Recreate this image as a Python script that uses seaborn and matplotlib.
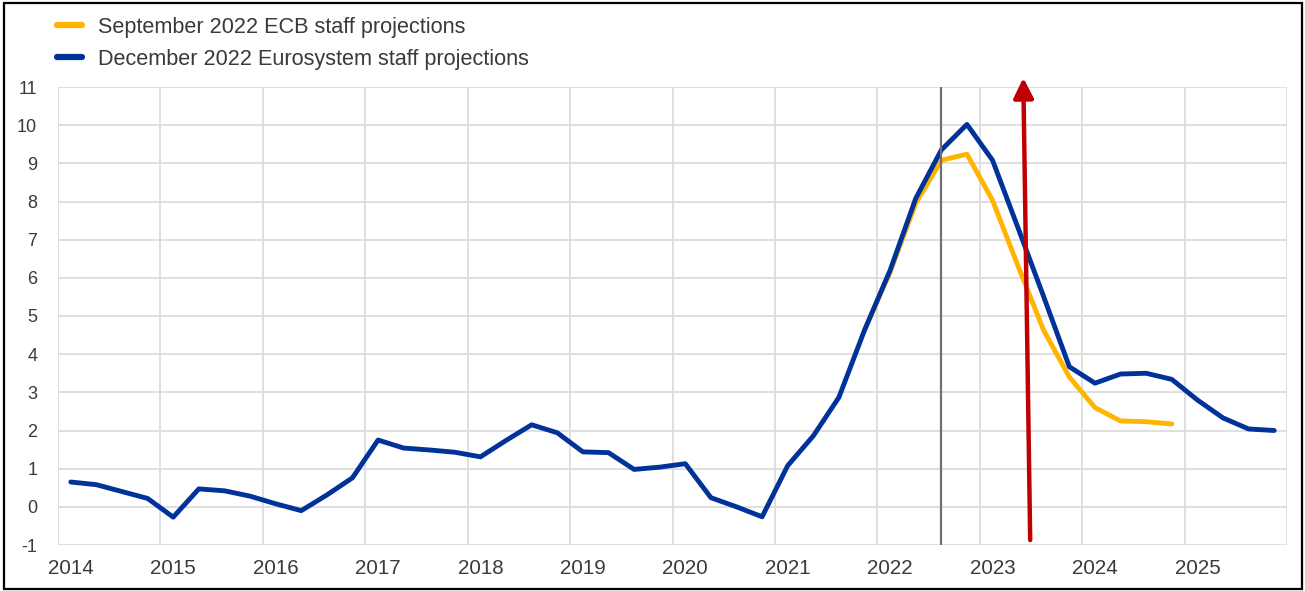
import numpy as np
import pandas as pd
import matplotlib
matplotlib.use("Agg")
import matplotlib.pyplot as plt
from matplotlib.patches import Rectangle
import seaborn as sns

# ---- data ----
years = [2014, 2015, 2016, 2017, 2018, 2019, 2020, 2021, 2022, 2023, 2024, 2025]
quarters = [f"{y}Q{q}" for y in years for q in (1, 2, 3, 4)]

december_2022 = [0.65, 0.58, 0.40, 0.22, -0.27, 0.47, 0.42, 0.28,
                 0.08, -0.10, 0.31, 0.76, 1.75, 1.54, 1.49, 1.43,
                 1.31, 1.74, 2.15, 1.94, 1.44, 1.42, 0.98, 1.04,
                 1.13, 0.24, 0.00, -0.26, 1.08, 1.86, 2.87, 4.63,
                 6.20, 8.08, 9.35, 10.02, 9.08, 7.30, 5.50, 3.67,
                 3.24, 3.48, 3.50, 3.34, 2.80, 2.33, 2.04, 2.00]

september_2022 = [np.nan] * 31 + [4.63, 6.15, 7.95, 9.08, 9.24, 8.03, 6.30,
                                  4.62, 3.40, 2.60, 2.25, 2.23, 2.17] + [np.nan] * 4

label_sep = "September 2022 ECB staff projections"
label_dec = "December 2022 Eurosystem staff projections"
colors = {label_sep: "#FFB400", label_dec: "#003299"}

cutoff_quarter = "2022Q3"
arrow_start = (37.47, -0.87)
arrow_end = (37.20, 11.24)

df = pd.DataFrame({"quarter": quarters,
                   label_sep: september_2022,
                   label_dec: december_2022})
df["pos"] = np.arange(len(quarters))
long = df.melt(id_vars=["quarter", "pos"], value_vars=[label_sep, label_dec],
               var_name="series", value_name="value").dropna()

# ---- style ----
sns.set_theme(style="whitegrid")
plt.rcParams["font.family"] = ["Liberation Sans", "DejaVu Sans"]
text_color = "#3a3a3a"

fig = plt.figure(figsize=(13.05, 5.91), dpi=100)
ax = fig.add_axes([58 / 1305, 1 - 545 / 591, (1287 - 58) / 1305, (545 - 87) / 591])

sns.lineplot(data=long, x="pos", y="value", hue="series",
             hue_order=[label_sep, label_dec], palette=colors,
             linewidth=3.5, sort=False, legend=False, ax=ax)

ax.axvline(quarters.index(cutoff_quarter), color="#707070", lw=1.6, zorder=4)

ax.set_xlim(-0.5, len(quarters) - 0.5)
ax.set_ylim(-1, 11)
ax.set_yticks(range(-1, 12))
ax.set_yticklabels([str(v) for v in range(-1, 12)])
ax.set_xticks(np.arange(0, len(quarters), 4))
ax.set_xticklabels([str(y) for y in years])
ax.set_xticks(np.arange(-0.5, len(quarters), 4), minor=True)
ax.grid(False)
ax.grid(True, which="minor", axis="x", color="#dcdcdc", lw=1.3)
ax.grid(True, which="major", axis="y", color="#dcdcdc", lw=1.3)
ax.set_axisbelow(True)
for s in ax.spines.values():
    s.set_visible(False)
ax.tick_params(axis="both", which="both", length=0)
ax.tick_params(axis="y", pad=15, labelsize=13, labelcolor=text_color)
ax.tick_params(axis="x", pad=10, labelsize=14.8, labelcolor=text_color)
ax.set_xlabel("")
ax.set_ylabel("")

# legend
handles = [plt.Line2D([], [], color=colors[label_sep], lw=4.5),
           plt.Line2D([], [], color=colors[label_dec], lw=4.5)]
fig.legend(handles, [label_sep, label_dec], loc="upper left",
           bbox_to_anchor=(57 / 1305, 1 - 17 / 591), frameon=False,
           fontsize=15.6, handlelength=1.15, handletextpad=0.72,
           labelspacing=0.5, borderpad=0, borderaxespad=0,
           labelcolor=text_color)

# red arrow overlay
ax.annotate("", xy=arrow_end, xytext=arrow_start, annotation_clip=False,
            arrowprops=dict(arrowstyle="-|>,head_length=0.6,head_width=0.3",
                            color="#C00000", lw=3.2, mutation_scale=20,
                            shrinkA=0, shrinkB=0), zorder=6)

fig.patches.append(Rectangle((4 / 1305, 2 / 591), 1298 / 1305, 586 / 591,
                             transform=fig.transFigure, fill=False,
                             edgecolor="black", lw=1.6))

fig.savefig("out.png", dpi=100)
